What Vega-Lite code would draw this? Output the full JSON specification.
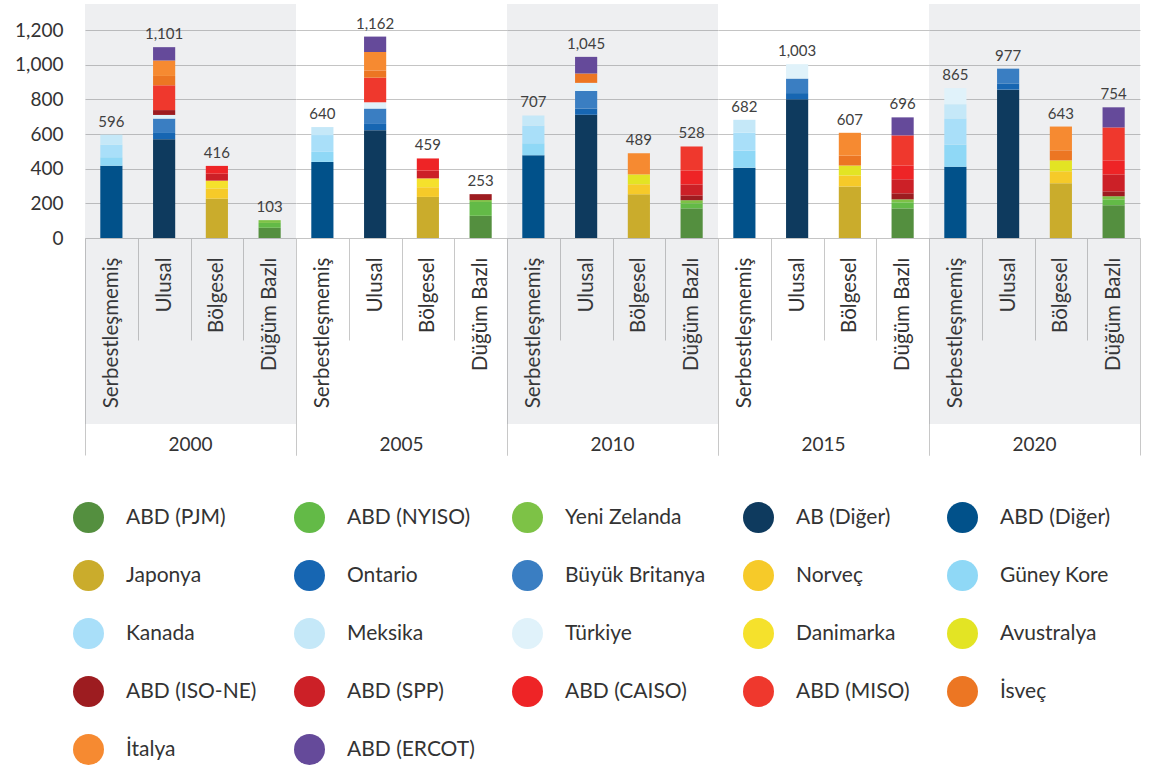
{
  "$schema": "https://vega.github.io/schema/vega-lite/v6.json",
  "padding": {"top": 4, "left": 14, "right": 12, "bottom": 5},
  "background": "white",
  "config": {"view": {"stroke": null}, "font": "Lato"},
  "data": {"values": [
    {"year": 2000, "category": "Serbestleşmemiş", "country": "ABD (Diğer)", "value": 417},
    {"year": 2000, "category": "Serbestleşmemiş", "country": "Güney Kore", "value": 49},
    {"year": 2000, "category": "Serbestleşmemiş", "country": "Kanada", "value": 73},
    {"year": 2000, "category": "Serbestleşmemiş", "country": "Meksika", "value": 57},
    {"year": 2000, "category": "Ulusal", "country": "AB (Diğer)", "value": 570},
    {"year": 2000, "category": "Ulusal", "country": "Ontario", "value": 36},
    {"year": 2000, "category": "Ulusal", "country": "Büyük Britanya", "value": 83},
    {"year": 2000, "category": "Ulusal", "country": "Türkiye", "value": 21},
    {"year": 2000, "category": "Ulusal", "country": "ABD (ISO-NE)", "value": 28},
    {"year": 2000, "category": "Ulusal", "country": "ABD (MISO)", "value": 143},
    {"year": 2000, "category": "Ulusal", "country": "İsveç", "value": 54},
    {"year": 2000, "category": "Ulusal", "country": "İtalya", "value": 89},
    {"year": 2000, "category": "Ulusal", "country": "ABD (ERCOT)", "value": 77},
    {"year": 2000, "category": "Bölgesel", "country": "Japonya", "value": 227},
    {"year": 2000, "category": "Bölgesel", "country": "Norveç", "value": 59},
    {"year": 2000, "category": "Bölgesel", "country": "Danimarka", "value": 45},
    {"year": 2000, "category": "Bölgesel", "country": "ABD (SPP)", "value": 40},
    {"year": 2000, "category": "Bölgesel", "country": "ABD (CAISO)", "value": 45},
    {"year": 2000, "category": "Düğüm Bazlı", "country": "ABD (PJM)", "value": 59},
    {"year": 2000, "category": "Düğüm Bazlı", "country": "ABD (NYISO)", "value": 28},
    {"year": 2000, "category": "Düğüm Bazlı", "country": "Yeni Zelanda", "value": 16},
    {"year": 2005, "category": "Serbestleşmemiş", "country": "ABD (Diğer)", "value": 439},
    {"year": 2005, "category": "Serbestleşmemiş", "country": "Güney Kore", "value": 58},
    {"year": 2005, "category": "Serbestleşmemiş", "country": "Kanada", "value": 97},
    {"year": 2005, "category": "Serbestleşmemiş", "country": "Meksika", "value": 46},
    {"year": 2005, "category": "Ulusal", "country": "AB (Diğer)", "value": 622},
    {"year": 2005, "category": "Ulusal", "country": "Ontario", "value": 36},
    {"year": 2005, "category": "Ulusal", "country": "Büyük Britanya", "value": 89},
    {"year": 2005, "category": "Ulusal", "country": "Türkiye", "value": 36},
    {"year": 2005, "category": "Ulusal", "country": "ABD (MISO)", "value": 142},
    {"year": 2005, "category": "Ulusal", "country": "İsveç", "value": 42},
    {"year": 2005, "category": "Ulusal", "country": "İtalya", "value": 106},
    {"year": 2005, "category": "Ulusal", "country": "ABD (ERCOT)", "value": 89},
    {"year": 2005, "category": "Bölgesel", "country": "Japonya", "value": 237},
    {"year": 2005, "category": "Bölgesel", "country": "Norveç", "value": 56},
    {"year": 2005, "category": "Bölgesel", "country": "Danimarka", "value": 51},
    {"year": 2005, "category": "Bölgesel", "country": "ABD (SPP)", "value": 45},
    {"year": 2005, "category": "Bölgesel", "country": "ABD (CAISO)", "value": 70},
    {"year": 2005, "category": "Düğüm Bazlı", "country": "ABD (PJM)", "value": 128},
    {"year": 2005, "category": "Düğüm Bazlı", "country": "ABD (NYISO)", "value": 80},
    {"year": 2005, "category": "Düğüm Bazlı", "country": "Yeni Zelanda", "value": 11},
    {"year": 2005, "category": "Düğüm Bazlı", "country": "ABD (ISO-NE)", "value": 34},
    {"year": 2010, "category": "Serbestleşmemiş", "country": "ABD (Diğer)", "value": 477},
    {"year": 2010, "category": "Serbestleşmemiş", "country": "Güney Kore", "value": 69},
    {"year": 2010, "category": "Serbestleşmemiş", "country": "Kanada", "value": 103},
    {"year": 2010, "category": "Serbestleşmemiş", "country": "Meksika", "value": 58},
    {"year": 2010, "category": "Ulusal", "country": "AB (Diğer)", "value": 711},
    {"year": 2010, "category": "Ulusal", "country": "Ontario", "value": 36},
    {"year": 2010, "category": "Ulusal", "country": "Büyük Britanya", "value": 101},
    {"year": 2010, "category": "Ulusal", "country": "Türkiye", "value": 47},
    {"year": 2010, "category": "Ulusal", "country": "İsveç", "value": 54},
    {"year": 2010, "category": "Ulusal", "country": "ABD (ERCOT)", "value": 96},
    {"year": 2010, "category": "Bölgesel", "country": "Japonya", "value": 252},
    {"year": 2010, "category": "Bölgesel", "country": "Norveç", "value": 58},
    {"year": 2010, "category": "Bölgesel", "country": "Avustralya", "value": 57},
    {"year": 2010, "category": "Bölgesel", "country": "İtalya", "value": 122},
    {"year": 2010, "category": "Düğüm Bazlı", "country": "ABD (PJM)", "value": 171},
    {"year": 2010, "category": "Düğüm Bazlı", "country": "ABD (NYISO)", "value": 29},
    {"year": 2010, "category": "Düğüm Bazlı", "country": "Yeni Zelanda", "value": 18},
    {"year": 2010, "category": "Düğüm Bazlı", "country": "ABD (ISO-NE)", "value": 27},
    {"year": 2010, "category": "Düğüm Bazlı", "country": "ABD (SPP)", "value": 64},
    {"year": 2010, "category": "Düğüm Bazlı", "country": "ABD (CAISO)", "value": 81},
    {"year": 2010, "category": "Düğüm Bazlı", "country": "ABD (MISO)", "value": 138},
    {"year": 2015, "category": "Serbestleşmemiş", "country": "ABD (Diğer)", "value": 406},
    {"year": 2015, "category": "Serbestleşmemiş", "country": "Güney Kore", "value": 98},
    {"year": 2015, "category": "Serbestleşmemiş", "country": "Kanada", "value": 104},
    {"year": 2015, "category": "Serbestleşmemiş", "country": "Meksika", "value": 74},
    {"year": 2015, "category": "Ulusal", "country": "AB (Diğer)", "value": 800},
    {"year": 2015, "category": "Ulusal", "country": "Ontario", "value": 36},
    {"year": 2015, "category": "Ulusal", "country": "Büyük Britanya", "value": 84},
    {"year": 2015, "category": "Ulusal", "country": "Türkiye", "value": 83},
    {"year": 2015, "category": "Bölgesel", "country": "Japonya", "value": 297},
    {"year": 2015, "category": "Bölgesel", "country": "Norveç", "value": 64},
    {"year": 2015, "category": "Bölgesel", "country": "Avustralya", "value": 57},
    {"year": 2015, "category": "Bölgesel", "country": "İsveç", "value": 57},
    {"year": 2015, "category": "Bölgesel", "country": "İtalya", "value": 132},
    {"year": 2015, "category": "Düğüm Bazlı", "country": "ABD (PJM)", "value": 171},
    {"year": 2015, "category": "Düğüm Bazlı", "country": "ABD (NYISO)", "value": 35},
    {"year": 2015, "category": "Düğüm Bazlı", "country": "Yeni Zelanda", "value": 17},
    {"year": 2015, "category": "Düğüm Bazlı", "country": "ABD (ISO-NE)", "value": 35},
    {"year": 2015, "category": "Düğüm Bazlı", "country": "ABD (SPP)", "value": 81},
    {"year": 2015, "category": "Düğüm Bazlı", "country": "ABD (CAISO)", "value": 80},
    {"year": 2015, "category": "Düğüm Bazlı", "country": "ABD (MISO)", "value": 173},
    {"year": 2015, "category": "Düğüm Bazlı", "country": "ABD (ERCOT)", "value": 104},
    {"year": 2020, "category": "Serbestleşmemiş", "country": "ABD (Diğer)", "value": 411},
    {"year": 2020, "category": "Serbestleşmemiş", "country": "Güney Kore", "value": 127},
    {"year": 2020, "category": "Serbestleşmemiş", "country": "Kanada", "value": 152},
    {"year": 2020, "category": "Serbestleşmemiş", "country": "Meksika", "value": 82},
    {"year": 2020, "category": "Serbestleşmemiş", "country": "Türkiye", "value": 93},
    {"year": 2020, "category": "Ulusal", "country": "AB (Diğer)", "value": 856},
    {"year": 2020, "category": "Ulusal", "country": "Ontario", "value": 36},
    {"year": 2020, "category": "Ulusal", "country": "Büyük Britanya", "value": 85},
    {"year": 2020, "category": "Bölgesel", "country": "Japonya", "value": 316},
    {"year": 2020, "category": "Bölgesel", "country": "Norveç", "value": 69},
    {"year": 2020, "category": "Bölgesel", "country": "Avustralya", "value": 63},
    {"year": 2020, "category": "Bölgesel", "country": "İsveç", "value": 58},
    {"year": 2020, "category": "Bölgesel", "country": "İtalya", "value": 137},
    {"year": 2020, "category": "Düğüm Bazlı", "country": "ABD (PJM)", "value": 189},
    {"year": 2020, "category": "Düğüm Bazlı", "country": "ABD (NYISO)", "value": 34},
    {"year": 2020, "category": "Düğüm Bazlı", "country": "Yeni Zelanda", "value": 18},
    {"year": 2020, "category": "Düğüm Bazlı", "country": "ABD (ISO-NE)", "value": 28},
    {"year": 2020, "category": "Düğüm Bazlı", "country": "ABD (SPP)", "value": 98},
    {"year": 2020, "category": "Düğüm Bazlı", "country": "ABD (CAISO)", "value": 81},
    {"year": 2020, "category": "Düğüm Bazlı", "country": "ABD (MISO)", "value": 190},
    {"year": 2020, "category": "Düğüm Bazlı", "country": "ABD (ERCOT)", "value": 116}
  ]},
  "transform": [
    {"calculate": "indexof(['ABD (PJM)','ABD (NYISO)','Yeni Zelanda','AB (Diğer)','ABD (Diğer)','Japonya','Ontario','Büyük Britanya','Norveç','Güney Kore','Kanada','Meksika','Türkiye','Danimarka','Avustralya','ABD (ISO-NE)','ABD (SPP)','ABD (CAISO)','ABD (MISO)','İsveç','İtalya','ABD (ERCOT)'], datum.country)", "as": "k"}
  ],
  "facet": {
    "column": {
      "field": "year", "type": "ordinal",
      "header": {"title": null, "labelOrient": "bottom", "labelFontSize": 19, "labelColor": "#333333", "labelFont": "Lato", "labelPadding": -20}
    }
  },
  "spacing": 0,
  "bounds": "flush",
  "spec": {
    "width": 211,
    "height": 420,
    "layer": [
      {
        "transform": [{"aggregate": [{"op": "count", "as": "n"}], "groupby": ["year"]}],
        "mark": {"type": "rect", "fill": "#5a6478"},
        "encoding": {
          "opacity": {"condition": {"test": "datum.year % 10 == 0", "value": 0.1}, "value": 0}
        }
      },
      {
        "mark": {"type": "bar", "width": {"band": 0.42}},
        "encoding": {
          "x": {
            "field": "category", "type": "nominal",
            "sort": ["Serbestleşmemiş", "Ulusal", "Bölgesel", "Düğüm Bazlı"],
            "scale": {"paddingInner": 0, "paddingOuter": 0},
            "axis": {
              "title": null, "labelAngle": -90, "labelFontSize": 20.5, "labelColor": "#333333",
              "offset": -186, "tickBand": "extent",
              "tickSize": {"condition": {"test": "datum.index < 0 || datum.index == 1", "value": 217}, "value": 102},
              "labelPadding": {"condition": {"test": "datum.index < 0 || datum.index == 1", "value": -198}, "value": -83},
              "tickColor": "#c8c8c8", "domainColor": "#c8c8c8"
            }
          },
          "y": {
            "field": "value", "type": "quantitative", "stack": "zero",
            "scale": {"domain": [-1073, 1350], "nice": false, "zero": false},
            "axis": {
              "values": [0, 200, 400, 600, 800, 1000, 1200], "format": ",.0f", "title": null,
              "domain": false, "ticks": false, "labelFontSize": 19, "labelColor": "#333333",
              "labelPadding": 22, "gridColor": "#c4c4c4", "gridWidth": 1.2
            }
          },
          "color": {
            "field": "country", "type": "nominal",
            "scale": {
              "domain": ["ABD (PJM)", "ABD (NYISO)", "Yeni Zelanda", "AB (Diğer)", "ABD (Diğer)", "Japonya", "Ontario", "Büyük Britanya", "Norveç", "Güney Kore", "Kanada", "Meksika", "Türkiye", "Danimarka", "Avustralya", "ABD (ISO-NE)", "ABD (SPP)", "ABD (CAISO)", "ABD (MISO)", "İsveç", "İtalya", "ABD (ERCOT)"],
              "range": ["#548F3F", "#63BA47", "#7DC246", "#0E3A5E", "#01518A", "#CAAC2C", "#1766B2", "#3A7EC2", "#F6CA29", "#8FD8F6", "#A9DFF9", "#C5E8F8", "#E0F2FA", "#F5E12C", "#E3E424", "#9D1C20", "#CC2027", "#EE2426", "#EF382D", "#EC7623", "#F68A31", "#654A9A"]
            },
            "legend": {
              "title": null, "orient": "none", "legendX": -12, "legendY": 498,
              "direction": "horizontal", "columns": 5,
              "symbolType": "circle", "symbolSize": 960, "symbolStrokeWidth": 0,
              "labelFontSize": 21, "labelColor": "#333333", "labelOffset": 22,
              "columnPadding": 37, "rowPadding": 27, "labelLimit": 300
            }
          },
          "order": {"field": "k", "type": "quantitative"}
        }
      },
      {
        "transform": [{"aggregate": [{"op": "sum", "field": "value", "as": "total"}], "groupby": ["year", "category"]}],
        "mark": {"type": "text", "baseline": "bottom", "dy": -5, "fontSize": 15, "color": "#404040"},
        "encoding": {
          "x": {"field": "category", "type": "nominal", "sort": ["Serbestleşmemiş", "Ulusal", "Bölgesel", "Düğüm Bazlı"]},
          "y": {"field": "total", "type": "quantitative"},
          "text": {"field": "total", "type": "quantitative", "format": ","}
        }
      }
    ]
  }
}
